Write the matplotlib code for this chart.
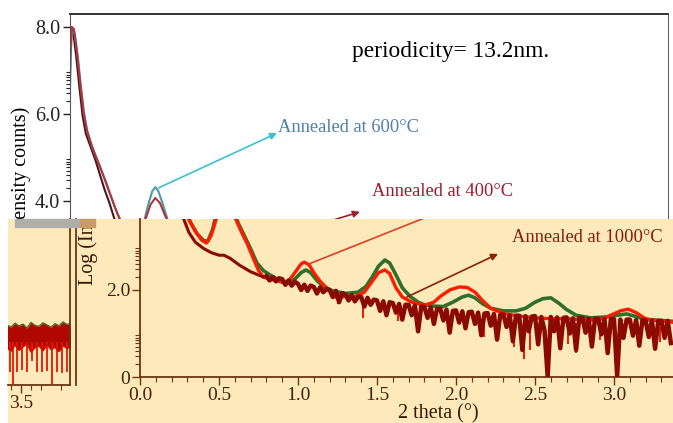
import numpy as np
import matplotlib
matplotlib.use("Agg")
import matplotlib.pyplot as plt
from matplotlib.patches import Rectangle

plt.rcParams['font.family'] = ['Liberation Serif', 'DejaVu Serif']

# ---------------- data (log intensity vs 2 theta) ----------------
# annealed at 1000 C : smooth low-angle part
dark_head_theta = [0.000, 0.006, 0.02, 0.04, 0.06, 0.08, 0.10, 0.13, 0.16, 0.19, 0.22, 0.25,
                   0.28, 0.31, 0.35, 0.40, 0.45, 0.50, 0.53, 0.57, 0.63, 0.70, 0.78]
dark_head_int = [6.6, 8.0, 7.9, 7.3, 6.6, 5.95, 5.55, 5.25, 4.95, 4.6, 4.25, 3.95,
                 3.6, 3.32, 3.1, 2.96, 2.86, 2.8, 2.8, 2.73, 2.57, 2.42, 2.3]
# annealed at 1000 C : noisy tail, scan step 0.02 deg from 0.80 to 3.36
dark_tail_int = [
    2.32, 2.22, 2.30, 2.20, 2.27,
    2.25, 2.12, 2.22, 2.10, 2.19,
    2.14, 2.00, 2.12, 1.98, 2.10,
    2.07, 1.92, 2.06, 1.95, 2.02,
    2.00, 1.84, 1.98, 1.72, 1.93,
    1.90, 1.76, 1.88, 1.74, 1.84,
    1.84, 1.62, 1.82, 1.66, 1.78,
    1.76, 1.52, 1.74, 1.42, 1.72,
    1.70, 1.48, 1.68, 1.32, 1.66,
    1.66, 1.42, 1.64, 1.05, 1.62,
    1.61, 1.36, 1.60, 1.22, 1.57,
    1.57, 1.30, 1.55, 1.02, 1.52,
    1.53, 1.25, 1.51, 1.12, 1.49,
    1.50, 1.22, 1.48, 0.96, 1.46,
    1.47, 1.18, 1.45, 0.86, 1.43,
    1.44, 1.15, 1.42, 0.82, 1.41,
    1.41, 0.62, 1.40, 1.05, 1.39,
    1.40, 0.75, 1.38, 1.08, 0.02,
    1.38, 1.05, 1.37, 0.66, 1.36,
    1.37, 1.00, 1.35, 0.62, 1.35,
    1.36, 1.02, 1.34, 0.70, 1.34,
    1.34, 0.98, 1.33, 0.55, 1.33,
    1.33, 0.02, 1.32, 0.90, 1.32,
    1.32, 0.95, 1.31, 0.72, 1.31,
    1.30, 0.92, 1.30, 0.65, 1.29,
    1.29, 0.90, 1.29, 0.78]
dark_tail_theta = np.linspace(0.80, 3.36, len(dark_tail_int))

# annealed at 600 C
green_theta = [0.000, 0.012, 0.03, 0.05, 0.07, 0.09, 0.11, 0.14, 0.17, 0.20,
               0.23, 0.26, 0.29, 0.32, 0.36, 0.40, 0.43, 0.46, 0.49, 0.52,
               0.54, 0.56, 0.59, 0.62, 0.66, 0.70, 0.74, 0.78, 0.82, 0.86,
               0.90, 0.94, 0.98, 1.02, 1.05, 1.08, 1.12, 1.16, 1.22, 1.30,
               1.38, 1.43, 1.47, 1.51, 1.55, 1.58, 1.62, 1.66, 1.71, 1.76,
               1.80, 1.86, 1.92, 1.98, 2.04, 2.08, 2.12, 2.17, 2.22, 2.30,
               2.38, 2.44, 2.50, 2.55, 2.60, 2.65, 2.70, 2.76, 2.85, 2.95,
               3.02, 3.08, 3.13, 3.20, 3.30, 3.37]
green_int = [7.0, 7.9, 7.85, 7.3, 6.6, 6.0, 5.6, 5.25, 4.98, 4.7,
             4.4, 4.1, 3.8, 3.55, 3.3, 3.14, 3.12, 3.4, 3.85, 4.22,
             4.32, 4.22, 3.9, 3.55, 3.25, 2.95, 2.62, 2.45, 2.35, 2.27,
             2.18, 2.16, 2.25, 2.4, 2.46, 2.4, 2.22, 2.08, 1.98, 1.92,
             1.95, 2.08, 2.3, 2.55, 2.69, 2.62, 2.35, 2.05, 1.85, 1.72,
             1.66, 1.63, 1.62, 1.72, 1.84, 1.88, 1.82, 1.68, 1.58, 1.52,
             1.52, 1.58, 1.72, 1.8, 1.82, 1.7, 1.55, 1.42, 1.36, 1.38,
             1.42, 1.45, 1.4, 1.32, 1.3, 1.28]

# annealed at 400 C
red_theta = [0.000, 0.012, 0.025, 0.045, 0.065, 0.085, 0.105, 0.13, 0.16, 0.19,
             0.22, 0.25, 0.28, 0.31, 0.35, 0.39, 0.42, 0.45, 0.48, 0.51,
             0.54, 0.57, 0.60, 0.64, 0.68, 0.72, 0.75, 0.78, 0.82, 0.86,
             0.90, 0.94, 0.98, 1.02, 1.04, 1.07, 1.10, 1.14, 1.20, 1.25,
             1.30, 1.36, 1.42, 1.47, 1.51, 1.55, 1.58, 1.62, 1.66, 1.72,
             1.80, 1.86, 1.90, 1.96, 2.02, 2.07, 2.12, 2.17, 2.22, 2.30,
             2.40, 2.50, 2.60, 2.70, 2.80, 2.90, 2.98, 3.04, 3.09, 3.14,
             3.20, 3.30, 3.37]
red_int = [7.3, 8.0, 7.95, 7.4, 6.7, 6.05, 5.65, 5.35, 5.05, 4.78,
           4.5, 4.2, 3.9, 3.62, 3.35, 3.15, 3.08, 3.25, 3.6, 3.92,
           4.07, 3.95, 3.68, 3.35, 3.05, 2.7, 2.45, 2.3, 2.25, 2.22,
           2.18, 2.2, 2.4, 2.6, 2.64, 2.58, 2.4, 2.2, 1.98, 1.8,
           1.86, 1.85, 1.95, 2.2, 2.4, 2.46, 2.38, 2.05, 1.84, 1.72,
           1.65, 1.72, 1.85, 2.0, 2.07, 2.06, 1.95, 1.75, 1.58, 1.46,
           1.40, 1.36, 1.34, 1.34, 1.32, 1.30, 1.42, 1.52, 1.56, 1.48,
           1.34, 1.28, 1.26]
# downward noise spikes of the 400 C scan
red_spike_theta = [1.25, 1.41, 1.63, 1.95, 2.18, 2.37, 2.43, 2.47, 2.71, 2.76, 2.91, 3.15, 3.29]
red_spike_top = [1.90, 1.75, 1.60, 1.45, 1.36, 1.30, 1.28, 1.28, 1.25, 1.24, 1.22, 1.18, 1.16]
red_spike_bot = [1.68, 1.35, 1.28, 1.08, 0.92, 0.68, 0.42, 0.62, 0.75, 0.55, 0.85, 0.72, 0.80]

# neighbouring panel (cut off at the left edge)
left_theta = [3.465, 3.475, 3.485, 3.495, 3.505, 3.515, 3.525, 3.535, 3.545,
              3.555, 3.565, 3.575, 3.585, 3.595, 3.605, 3.615, 3.625]
left_hi = [1.38, 1.33, 1.42, 1.36, 1.40, 1.31, 1.44, 1.37, 1.35,
           1.43, 1.38, 1.33, 1.41, 1.36, 1.45, 1.39, 1.42]
left_lo = [0.85, 0.78, 0.92, 0.80, 0.88, 0.95, 0.76, 0.86, 0.90,
           0.79, 0.93, 0.82, 0.87, 0.77, 0.91, 0.84, 0.89]
left_spike_theta = [3.472, 3.480, 3.490, 3.503, 3.515, 3.528, 3.540, 3.552, 3.566, 3.577, 3.590, 3.603, 3.614]
left_spike_bot = [0.30, 0.02, 0.30, 0.35, 0.30, 0.55, 0.30, 0.30, 0.32, 0.02, 0.30, 0.28, 0.30]

# ---------------- layout ----------------
W, H = 673, 423
fig = plt.figure(figsize=(W / 100, H / 100), dpi=100)
fig.patch.set_facecolor('white')

PX_X = 158.0   # pixels per degree
PX_Y = 43.5    # pixels per log unit


def px_axes(x0, y0, x1, y1, **kw):
    return fig.add_axes([x0 / W, 1 - y1 / H, (x1 - x0) / W, (y1 - y0) / H], **kw)


beige = '#fde9b9'
brown = '#6a3510'
minor_log = lambda majors: [m + np.log10(k) for m in majors for k in range(2, 10)]

# ---- upper (original) chart ----
ax = px_axes(70, 14, 668, 375, zorder=0)
ax.set_xlim(0, 598 / PX_X)
ax.set_ylim(0, 361 / PX_Y)
ax.plot(dark_head_theta, dark_head_int, color='#4a1818', lw=1.5)
ax.plot(dark_tail_theta, dark_tail_int, color='#4a1818', lw=1.0)
ax.plot(green_theta, green_int, color='#4f9aa6', lw=1.5)
ax.plot(red_theta, red_int, color='#b0343f', lw=1.5)
ax.set_yticks([4, 6, 8])
ax.set_yticklabels(['4.0', '6.0', '8.0'])
ax.set_yticks(minor_log([2, 4, 6]), minor=True)
ax.tick_params(axis='y', which='major', length=5, width=1, pad=2, labelsize=14.5, colors='#222222')
ax.tick_params(axis='y', which='minor', length=3, width=0.8, colors='#222222')
ax.tick_params(axis='x', bottom=False, labelbottom=False)
ax.spines['bottom'].set_visible(False)
ax.spines['top'].set_color('#333333')
ax.spines['top'].set_linewidth(1.4)
ax.spines['left'].set_color('#555555')
ax.spines['right'].set_color('#666666')
ax.set_ylabel('Log (Intensity counts)', fontsize=14.5)
ax.yaxis.label.set_va('center')
ax.yaxis.set_label_coords(-0.082, 0.496)
ax.text(1.785, 7.43, 'periodicity= 13.2nm.', fontsize=16.8, va='center', ha='left')
ax.text(1.316, 5.68, 'Annealed at 600°C', fontsize=13.3, color='#4f80aa', va='center')
ax.annotate('', xy=(1.31, 5.56), xytext=(0.56, 4.30),
            arrowprops=dict(arrowstyle='-|>', color='#3cc0d2', lw=1.2,
                            mutation_scale=10, shrinkA=0, shrinkB=0))
ax.text(1.91, 4.21, 'Annealed at 400°C', fontsize=13.3, color='#a3182e', va='center')
ax.annotate('', xy=(1.835, 3.75), xytext=(1.456, 3.33),
            arrowprops=dict(arrowstyle='-|>', color='#a31c2e', lw=1.2,
                            mutation_scale=10, shrinkA=0, shrinkB=0))

# ---- pasted (beige) chart on top ----
bg = px_axes(8, 219, 673, 423, zorder=1)
bg.set_facecolor(beige)
bg.set_xticks([])
bg.set_yticks([])
for s in bg.spines.values():
    s.set_visible(False)

strip = Rectangle((15 / W, 1 - 227 / H), 65 / W, 8 / H, transform=fig.transFigure,
                  color='#aeaeaa', zorder=5)
strip2 = Rectangle((80 / W, 1 - 227 / H), 15 / W, 8 / H, transform=fig.transFigure,
                   color='#c99a62', zorder=5)
fig.add_artist(strip)
fig.add_artist(strip2)

bx = px_axes(140, 219, 673, 377, zorder=2)
bx.patch.set_visible(False)
bx.set_xlim(0, 533 / PX_X)
bx.set_ylim(0, 158 / PX_Y)
bx.plot(green_theta, green_int, color='#2f6f2c', lw=2.6, zorder=2)
bx.plot(red_theta, red_int, color='#ff1a00', lw=2.4, zorder=3)
bx.vlines(red_spike_theta, red_spike_bot, red_spike_top, color='#f01800', lw=1.4, zorder=3)
bx.plot(dark_head_theta, dark_head_int, color='#8a0a00', lw=2.2, zorder=4)
bx.plot(dark_tail_theta, dark_tail_int, color='#8a0a00', lw=3.2, zorder=4)

bx.set_xticks([0, 0.5, 1.0, 1.5, 2.0, 2.5, 3.0])
bx.set_xticklabels(['0.0', '0.5', '1.0', '1.5', '2.0', '2.5', '3.0'])
bx.set_xticks(np.arange(0.1, 3.35, 0.1), minor=True)
bx.set_yticks([0, 2])
bx.set_yticklabels(['0', '2.0'])
bx.set_yticks(minor_log([0, 2]), minor=True)
bx.tick_params(which='major', length=6, width=1, pad=1, labelsize=14, colors=brown, labelcolor='#4a2008')
bx.tick_params(which='minor', length=3.5, width=0.8, colors=brown)
bx.spines['top'].set_visible(False)
bx.spines['right'].set_visible(False)
for s in ['left', 'bottom']:
    bx.spines[s].set_color(brown)
    bx.spines[s].set_linewidth(1.3)
bx.set_xlabel('2 theta (°)', fontsize=14.5, color='#3a1806')
bx.xaxis.label.set_va('center')
bx.xaxis.set_label_coords(0.559, -0.232)
bx.set_ylabel('Log (Intensity counts)', fontsize=14.5, color='#3a1806')
bx.yaxis.label.set_va('center')
bx.yaxis.set_label_coords(-0.098, 1.146)
bx.yaxis.label.set_clip_box(bg.bbox)

bx.text(2.354, 3.2, 'Annealed at 1000°C', fontsize=13.3, color='#8b1c0e', va='center')
bx.annotate('', xy=(2.266, 2.83), xytext=(1.69, 1.84),
            arrowprops=dict(arrowstyle='-|>', color='#8a2206', lw=1.2,
                            mutation_scale=10, shrinkA=0, shrinkB=0))
bx.plot([1.07, 1.90], [2.60, 3.80], color='#e0402a', lw=1.2, zorder=5)

# ---- cut-off neighbouring panel ----
lx = px_axes(8, 219, 70, 385, zorder=2)
lx.patch.set_visible(False)
lx.set_xlim(3.4675, 3.6225)
lx.set_ylim(0, 166 / PX_Y)
lx.vlines(left_spike_theta, left_spike_bot, 1.0, color='#e01a00', lw=1.3)
lx.fill_between(left_theta, left_lo, left_hi, color='#b00800', lw=0)
lx.plot(left_theta, left_hi, color='#5a6a20', lw=1.0)
lx.plot(left_theta, left_lo, color='#d01000', lw=1.2)
lx.set_xticks([3.5])
lx.set_xticklabels(['3.5'])
lx.set_xticks([3.475, 3.525, 3.55, 3.6], minor=True)
lx.set_yticks([])
lx.tick_params(which='major', length=6, width=1, pad=1, labelsize=14, colors=brown, labelcolor='#4a2008')
lx.tick_params(which='minor', length=3.5, width=0.8, colors=brown)
for s in ['left', 'top']:
    lx.spines[s].set_visible(False)
for s in ['right', 'bottom']:
    lx.spines[s].set_color(brown)
    lx.spines[s].set_linewidth(1.3)

mx = px_axes(76, 219, 77, 385, zorder=2)
mx.patch.set_visible(False)
mx.set_xticks([])
mx.set_yticks([])
for s in ['right', 'bottom', 'top']:
    mx.spines[s].set_visible(False)
mx.spines['left'].set_color(brown)
mx.spines['left'].set_linewidth(1.3)

fig.savefig('out.png', dpi=100)
